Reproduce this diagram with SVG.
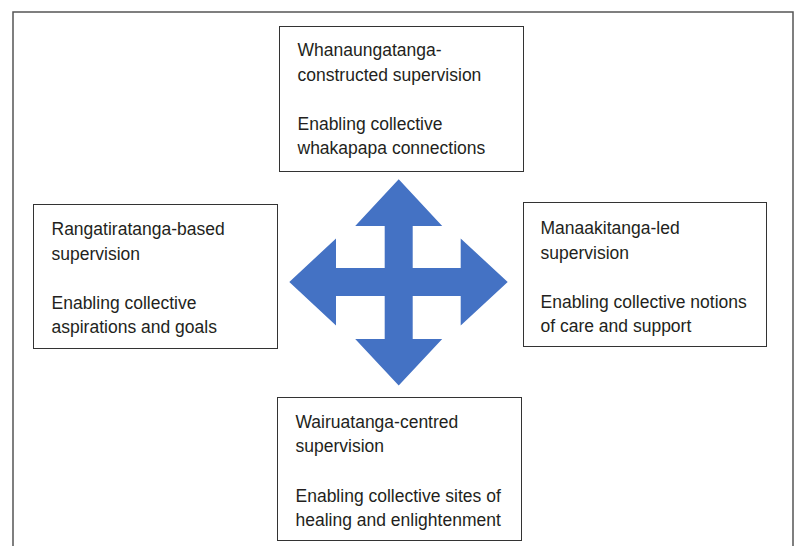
<svg xmlns="http://www.w3.org/2000/svg" width="798" height="546" viewBox="0 0 798 546">
<style>
.frame{fill:none;stroke:#555;stroke-width:1.5}
.box{fill:#fff;stroke:#333;stroke-width:1}
.t{font-family:"Liberation Sans",Arial,sans-serif;font-size:17.5px;fill:#231f20}
.arrow{fill:#4472C4}
</style>
<rect width="798" height="546" fill="#fff"/>
<rect class="frame" x="13" y="12" width="780" height="540"/>
<g id="connectors">
<path class="arrow" d="M398.7,179.3 L442.2,226 L412.7,226 L412.7,268 L460.7,268 L460.7,238.5 L507.7,282 L460.7,325.5 L460.7,296 L412.7,296 L412.7,339 L442.2,339 L398.7,385.5 L355.2,339 L384.7,339 L384.7,296 L336,296 L336,325.5 L289.3,282 L336,238.5 L336,268 L384.7,268 L384.7,226 L355.2,226 Z"/>
</g>
<g id="top">
<rect class="box" x="279.5" y="26.5" width="244" height="145"/>
<text class="t" x="297.5" y="56">Whanaungatanga-</text>
<text class="t" x="297.5" y="80.5">constructed supervision</text>
<text class="t" x="297.5" y="130">Enabling collective</text>
<text class="t" x="297.5" y="154">whakapapa connections</text>
</g>
<g id="left">
<rect class="box" x="33.5" y="204.5" width="244" height="144"/>
<text class="t" x="51.5" y="235">Rangatiratanga-based</text>
<text class="t" x="51.5" y="259.5">supervision</text>
<text class="t" x="51.5" y="309">Enabling collective</text>
<text class="t" x="51.5" y="333">aspirations and goals</text>
</g>
<g id="right">
<rect class="box" x="523.5" y="202.5" width="243" height="144"/>
<text class="t" x="540.5" y="234">Manaakitanga-led</text>
<text class="t" x="540.5" y="258.5">supervision</text>
<text class="t" x="540.5" y="308">Enabling collective notions</text>
<text class="t" x="540.5" y="332">of care and support</text>
</g>
<g id="bottom">
<rect class="box" x="277.5" y="397.5" width="244" height="143"/>
<text class="t" x="295.5" y="427.5">Wairuatanga-centred</text>
<text class="t" x="295.5" y="452">supervision</text>
<text class="t" x="295.5" y="501.5">Enabling collective sites of</text>
<text class="t" x="295.5" y="525.5">healing and enlightenment</text>
</g>
</svg>
